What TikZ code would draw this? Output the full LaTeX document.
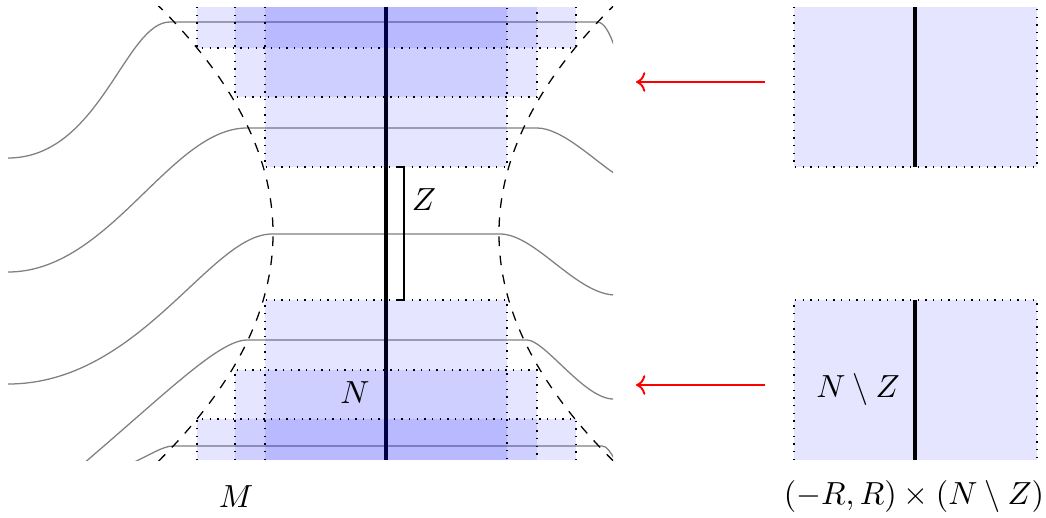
\documentclass[tikz,border=0pt]{standalone}
\usepackage{amsmath}
\usepackage{amssymb}
\usetikzlibrary{arrows.meta}
\definecolor{nbhdblue}{RGB}{0,0,255}
\definecolor{mapred}{RGB}{255,0,0}
\definecolor{leafgray}{RGB}{128,128,128}

\begin{document}
\begin{tikzpicture}[
      x=0.313pt, y=-0.313pt,
      sheet/.style={fill=nbhdblue, fill opacity=0.1},
      edge/.style={dotted, line width=0.4pt},
      leaf/.style={leafgray, line width=0.4pt},
      core/.style={line width=1.3pt},
      horn/.style={dashed, line width=0.4pt},
      maparr/.style={->, mapred, semithick},
      lab/.style={inner sep=0pt}
    ]
      \useasboundingbox (0,0) rectangle (1046,518);

      % 1. Foliation near N (clipped)
      \begin{scope}
        \clip (8,6) rectangle (613,460);
        \draw[leaf] (8,158) .. controls (100,158) and (125,22) .. (170,22) -- (597,22)
          .. controls (605,22) and (610,35) .. (614,45);
        \draw[leaf] (8,272) .. controls (110,272) and (170,128) .. (247,128) -- (537,128)
          .. controls (562,128) and (595,161) .. (614,173);
        \draw[leaf] (8,384) .. controls (140,384) and (210,234) .. (272,234) -- (500,234)
          .. controls (535,234) and (575,293) .. (614,295);
        \draw[leaf] (40,500) .. controls (150,410) and (215,340) .. (247,340) -- (527,340)
          .. controls (545,340) and (585,400) .. (614,399);
        \draw[leaf] (130,464) .. controls (150,455) and (163,446) .. (173,446) -- (602,446)
          .. controls (607,446) and (610,452) .. (614,458);

        % the submanifold N
        \draw[core] (386,7) -- (386,460);

        % 2. Product neighbourhoods
        \fill[sheet] (197,7) rectangle (576,48);
        \fill[sheet] (235,7) rectangle (537,97);
        \fill[sheet] (265,7) rectangle (507,167);
        \fill[sheet] (265,300) rectangle (507,460);
        \fill[sheet] (235,370) rectangle (537,460);
        \fill[sheet] (197,419) rectangle (576,460);
        \draw[edge] (197,7) |- (576,48) -- (576,7);
        \draw[edge] (235,7) |- (537,97) -- (537,7);
        \draw[edge] (265,7) |- (507,167) -- (507,7);
        \draw[edge] (265,460) |- (507,300) -- (507,460);
        \draw[edge] (235,460) |- (537,370) -- (537,460);
        \draw[edge] (197,460) |- (576,419) -- (576,460);

        % 3. Cusp boundary
        \draw[horn] (142,-10) .. controls (316.7,152.3) and (316.7,314.7) .. (142,477);
        \draw[horn] (630,-10) .. controls (455.3,152.3) and (455.3,314.7) .. (630,477);
      \end{scope}

      % bracket for Z
      \draw (396,167) -| (404,300) -- (396,300);
      \node[lab] (labZ) at (424,200) {$Z$};
      \node[lab] (labN) at (355,393) {$N$};
      \node[lab] (labM) at (236,497) {$M$};

      % 4. Model pieces
      \fill[sheet] (794,7) rectangle (1037,167);
      \draw[edge] (794,7) |- (1037,167) -- (1037,7);
      \draw[core] (915,7) -- (915,167);
      \fill[sheet] (794,300) rectangle (1037,460);
      \draw[edge] (794,460) |- (1037,300) -- (1037,460);
      \draw[core] (915,300) -- (915,460);
      \node[lab] (labNZ) at (858,390) {$N\setminus Z$};
      \node[lab] (labProd) at (914,497) {$(-R,R)\times(N\setminus Z)$};

      % 5. Maps
      \coordinate (srcTop) at (765,82);
      \coordinate (tgtTop) at (636,82);
      \coordinate (srcBot) at (765,385);
      \coordinate (tgtBot) at (636,385);
      \draw[maparr] (srcTop) -- (tgtTop);
      \draw[maparr] (srcBot) -- (tgtBot);
    \end{tikzpicture}
\end{document}
